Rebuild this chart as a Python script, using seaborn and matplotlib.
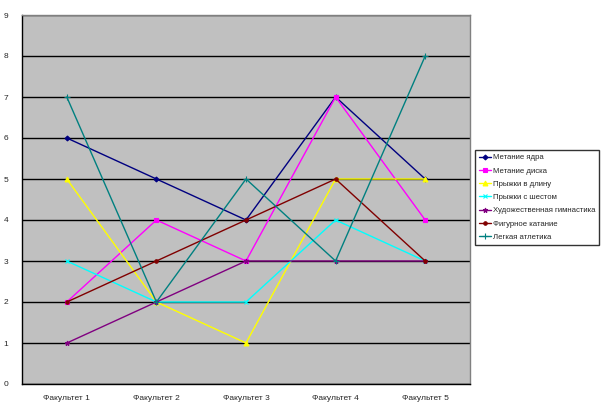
import matplotlib
matplotlib.use("Agg")
import matplotlib.pyplot as plt
import seaborn as sns
import pandas as pd
import numpy as np

categories = ["Факультет 1", "Факультет 2", "Факультет 3", "Факультет 4", "Факультет 5"]
series_names = ["Метание ядра", "Метание диска", "Прыжки в длину", "Прыжки с шестом",
                "Художественная гимнастика", "Фигурное катание", "Легкая атлетика"]
shot_put = [6, 5, 4, 7, 5]
discus = [2, 4, 3, 7, 4]
long_jump = [5, 2, 1, 5, 5]
pole_vault = [3, 2, 2, 4, 3]
rhythmic = [1, 2, 3, 3, 3]
figure_skating = [2, 3, 4, 5, 3]
athletics = [7, 2, 5, 3, 8]
values = [shot_put, discus, long_jump, pole_vault, rhythmic, figure_skating, athletics]

colors = ["#000080", "#FF00FF", "#FFFF00", "#00FFFF", "#800080", "#800000", "#008080"]
markers = ["D", "s", "^", "x", "*", "o", "+"]
msizes = [2.5, 3, 3.5, 3, 3.5, 2.5, 4]

sns.set_style("white")
plt.rcParams['font.family'] = ['Liberation Sans', 'DejaVu Sans']

fig = plt.figure(figsize=(6.12, 4.12), dpi=100)
ax = fig.add_axes([22/612, 28/412, 448/612, 369/412])
ax.set_facecolor("#C0C0C0")

for name, vals, c, m, ms in zip(series_names, values, colors, markers, msizes):
    d = pd.DataFrame({"pos": np.arange(len(categories)), "value": vals})
    sns.lineplot(data=d, x="pos", y="value", color=c, marker=m, markersize=ms,
                 markeredgecolor=c, markerfacecolor=c, markeredgewidth=0.8,
                 linewidth=1.0, label=name, ax=ax)

ax.set_xlim(-0.5, 4.5)
ax.set_ylim(0, 9)
ax.set_yticks(range(0, 10))
ax.set_yticklabels([str(i) for i in range(10)], fontsize=6)
ax.set_xticks(range(5))
ax.set_xticklabels(categories, fontsize=6)
ax.set_xticks(np.arange(-0.5, 5.0, 1.0), minor=True)
ax.tick_params(axis="x", which="major", length=0, pad=8)
ax.tick_params(axis="x", which="minor", length=4, width=0.8, color="black", direction="out")
ax.tick_params(axis="y", which="major", length=4, width=0.8, color="black", direction="out", pad=6)
ax.yaxis.grid(True, color="black", linewidth=1.0)
ax.set_axisbelow(True)
ax.set_xlabel("")
ax.set_ylabel("")
for s in ["top", "right"]:
    ax.spines[s].set_color("#808080")
    ax.spines[s].set_linewidth(1.0)
for s in ["left", "bottom"]:
    ax.spines[s].set_color("black")
    ax.spines[s].set_linewidth(1.0)

handles, labels = ax.get_legend_handles_labels()
leg = ax.legend(handles, labels, loc="upper left", bbox_to_anchor=(475/612, (412-150)/412),
                bbox_transform=fig.transFigure, fontsize=5.6, frameon=True, fancybox=False,
                edgecolor="black", handlelength=1.5, handletextpad=0.3, labelspacing=0.75,
                borderpad=0.5, borderaxespad=0)
leg.get_frame().set_linewidth(1.0)

fig.savefig("out.png", dpi=100, facecolor="white")
